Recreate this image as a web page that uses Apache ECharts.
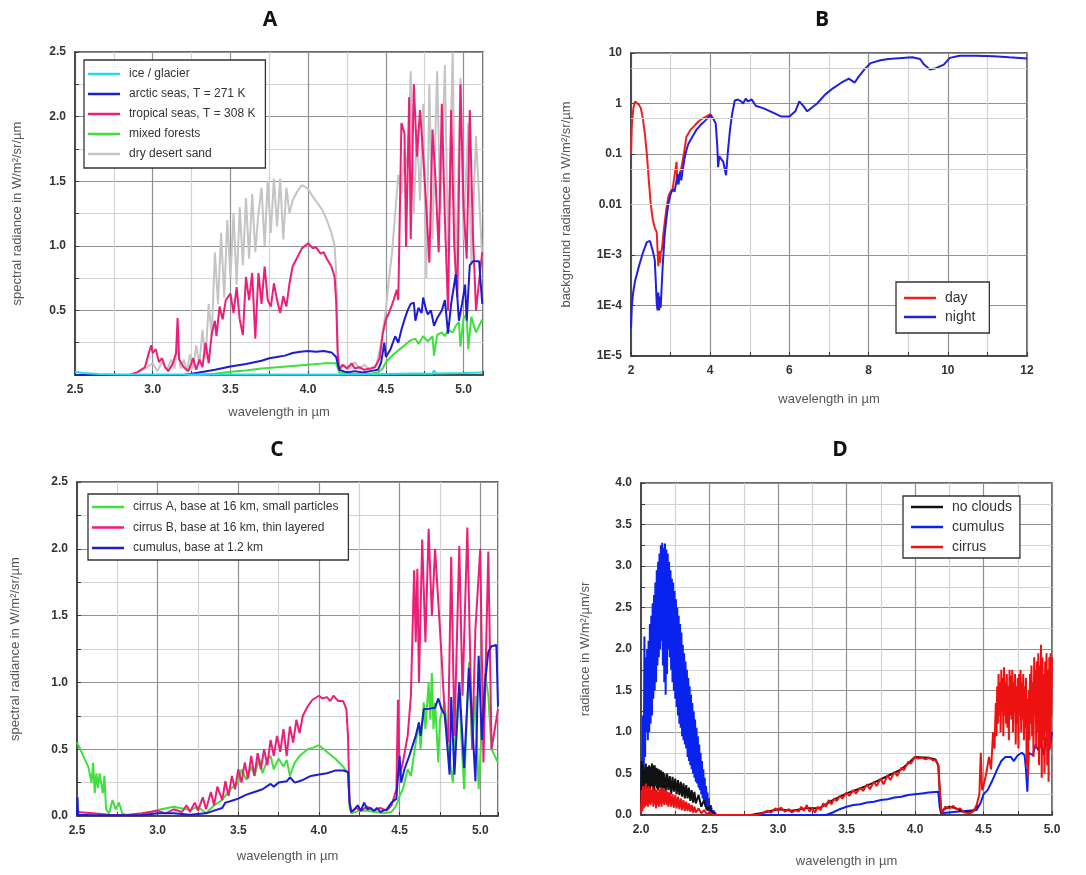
<!DOCTYPE html>
<html><head><meta charset="utf-8">
<script src="https://cdn.jsdelivr.net/npm/echarts@6/dist/echarts.min.js"></script>
<style>html,body{margin:0;padding:0;background:#fff}#c{width:1086px;height:875px}</style>
</head><body><div id="c"></div>
<script>
// ---------- Panel A: spectral radiance of surfaces ----------
const aIce = [[2.5,0.025],[2.55,0.015],[2.65,0.008],[2.8,0.004],[3.0,0.003],[3.5,0.003],[4.0,0.004],[4.2,0.003],[4.5,0.008],[4.7,0.012],[4.8,0.01],[4.81,0.035],[4.82,0.012],[5.0,0.015],[5.12,0.02]];
const aArctic = [[2.5,0],[3.2,0],[3.3,0.02],[3.4,0.04],[3.5,0.065],[3.6,0.085],[3.7,0.11],[3.75,0.13],[3.8,0.14],[3.85,0.15],[3.9,0.17],[3.95,0.18],[4.0,0.185],[4.05,0.18],[4.1,0.185],[4.15,0.175],[4.18,0.14],[4.2,0.04],[4.25,0.02],[4.3,0.03],[4.35,0.02],[4.4,0.03],[4.45,0.04],[4.47,0.1],[4.49,0.25],[4.5,0.14],[4.53,0.2],[4.56,0.3],[4.58,0.25],[4.6,0.35],[4.62,0.43],[4.64,0.5],[4.66,0.55],[4.68,0.56],[4.69,0.42],[4.71,0.52],[4.73,0.48],[4.74,0.6],[4.76,0.5],[4.77,0.47],[4.79,0.5],[4.81,0.38],[4.83,0.44],[4.86,0.5],[4.88,0.58],[4.9,0.32],[4.92,0.55],[4.95,0.78],[4.97,0.42],[4.99,0.55],[5.01,0.7],[5.02,0.42],[5.04,0.85],[5.06,0.88],[5.1,0.88],[5.12,0.55]];
const aTropical = [[2.5,0],[2.85,0],[2.9,0.02],[2.95,0.06],[2.97,0.15],[2.99,0.23],[3.0,0.17],[3.02,0.2],[3.04,0.1],[3.06,0.13],[3.08,0.06],[3.1,0.03],[3.13,0.09],[3.15,0.17],[3.16,0.44],[3.17,0.12],[3.2,0.06],[3.23,0.03],[3.26,0.13],[3.28,0.04],[3.3,0.12],[3.32,0.06],[3.34,0.25],[3.36,0.09],[3.38,0.32],[3.4,0.42],[3.41,0.3],[3.43,0.53],[3.45,0.43],[3.47,0.58],[3.5,0.63],[3.52,0.48],[3.54,0.68],[3.56,0.43],[3.58,0.31],[3.6,0.76],[3.62,0.58],[3.64,0.79],[3.66,0.28],[3.68,0.79],[3.7,0.55],[3.72,0.84],[3.74,0.58],[3.76,0.53],[3.78,0.71],[3.8,0.58],[3.82,0.48],[3.84,0.61],[3.86,0.53],[3.88,0.71],[3.9,0.84],[3.93,0.91],[3.96,0.98],[4.0,1.02],[4.03,0.98],[4.05,0.99],[4.08,0.94],[4.1,0.95],[4.12,0.9],[4.15,0.84],[4.17,0.76],[4.18,0.58],[4.19,0.17],[4.2,0.04],[4.22,0.08],[4.25,0.05],[4.28,0.09],[4.3,0.05],[4.33,0.06],[4.36,0.04],[4.4,0.05],[4.43,0.06],[4.46,0.13],[4.48,0.32],[4.5,0.43],[4.52,0.48],[4.55,0.58],[4.57,0.66],[4.58,0.58],[4.6,1.95],[4.62,1.87],[4.63,0.99],[4.65,2.15],[4.66,1.05],[4.68,2.25],[4.7,1.69],[4.72,2.05],[4.74,1.7],[4.76,1.3],[4.78,0.87],[4.8,1.9],[4.82,1.5],[4.84,0.95],[4.86,2.1],[4.88,1.2],[4.9,0.5],[4.92,2.05],[4.94,1.0],[4.96,0.6],[4.98,2.25],[5.0,1.3],[5.02,0.9],[5.04,2.05],[5.06,1.1],[5.08,0.5],[5.12,0.95]];
const aForest = [[2.5,0],[3.3,0],[3.4,0.01],[3.5,0.025],[3.6,0.035],[3.7,0.05],[3.8,0.06],[3.9,0.07],[4.0,0.08],[4.1,0.09],[4.18,0.09],[4.2,0.02],[4.3,0.01],[4.4,0.01],[4.45,0.02],[4.48,0.05],[4.5,0.1],[4.55,0.16],[4.6,0.21],[4.63,0.24],[4.66,0.27],[4.69,0.28],[4.71,0.24],[4.74,0.3],[4.77,0.26],[4.8,0.3],[4.81,0.15],[4.83,0.31],[4.86,0.33],[4.88,0.3],[4.9,0.35],[4.93,0.33],[4.95,0.38],[4.97,0.41],[4.98,0.22],[5.0,0.44],[5.02,0.47],[5.03,0.2],[5.05,0.45],[5.08,0.33],[5.12,0.43]];
const aSand = [[2.5,0],[2.85,0],[2.9,0.02],[2.95,0.05],[3.0,0.09],[3.03,0.03],[3.06,0.1],[3.09,0.04],[3.12,0.12],[3.14,0.05],[3.16,0.22],[3.18,0.05],[3.2,0.12],[3.22,0.03],[3.24,0.16],[3.26,0.05],[3.28,0.23],[3.3,0.08],[3.32,0.35],[3.34,0.12],[3.36,0.55],[3.38,0.3],[3.4,0.95],[3.42,0.55],[3.44,1.1],[3.46,0.6],[3.48,1.2],[3.5,0.75],[3.52,1.25],[3.54,0.7],[3.56,1.3],[3.58,0.85],[3.6,1.37],[3.62,0.9],[3.64,1.4],[3.66,0.95],[3.68,1.25],[3.7,1.45],[3.72,1.0],[3.74,1.5],[3.76,1.1],[3.78,1.52],[3.8,1.15],[3.82,1.52],[3.84,1.05],[3.86,1.45],[3.88,1.25],[3.9,1.35],[3.93,1.42],[3.96,1.47],[4.0,1.44],[4.03,1.38],[4.06,1.33],[4.09,1.28],[4.12,1.2],[4.15,1.1],[4.17,1.0],[4.18,0.8],[4.19,0.2],[4.2,0.03],[4.23,0.08],[4.26,0.04],[4.3,0.1],[4.33,0.05],[4.36,0.08],[4.4,0.04],[4.44,0.08],[4.47,0.25],[4.5,0.5],[4.52,0.75],[4.54,0.95],[4.56,1.25],[4.58,1.55],[4.6,1.4],[4.62,1.75],[4.64,1.6],[4.66,2.35],[4.68,1.25],[4.7,1.9],[4.72,1.35],[4.74,2.1],[4.76,0.75],[4.78,2.25],[4.8,1.05],[4.83,2.35],[4.85,1.25],[4.88,2.4],[4.9,0.95],[4.93,2.5],[4.95,0.7],[4.98,2.3],[5.0,1.05],[5.03,1.95],[5.05,0.85],[5.08,1.85],[5.12,0.9]];

// ---------- Panel B: background radiance (log) ----------
const bDay = [[2.0,0.1],[2.02,0.35],[2.04,0.55],[2.06,0.8],[2.1,1.1],[2.15,1.05],[2.2,0.95],[2.25,0.8],[2.3,0.5],[2.35,0.25],[2.4,0.1],[2.45,0.03],[2.5,0.01],[2.55,0.005],[2.6,0.0035],[2.65,0.0028],[2.67,0.0013],[2.69,0.0006],[2.71,0.0012],[2.73,0.0007],[2.75,0.0011],[2.78,0.0013],[2.82,0.0027],[2.86,0.005],[2.9,0.009],[2.95,0.015],[3.0,0.018],[3.05,0.02],[3.1,0.019],[3.15,0.07],[3.17,0.025],[3.2,0.03],[3.24,0.04],[3.3,0.07],[3.35,0.12],[3.4,0.22],[3.5,0.3],[3.6,0.36],[3.7,0.44],[3.8,0.5],[3.9,0.55],[4.0,0.62],[4.05,0.55]];
const bNight = [[2.0,0.000035],[2.02,0.000095],[2.05,0.00017],[2.1,0.0003],[2.2,0.0006],[2.3,0.0011],[2.4,0.0018],[2.48,0.0019],[2.55,0.0012],[2.6,0.0008],[2.63,0.00025],[2.65,0.00011],[2.67,0.00008],[2.69,0.00018],[2.71,0.00008],[2.73,0.00015],[2.75,0.00009],[2.77,0.0002],[2.8,0.0006],[2.85,0.0025],[2.9,0.0057],[2.95,0.011],[3.0,0.016],[3.05,0.02],[3.1,0.018],[3.15,0.017],[3.18,0.04],[3.2,0.025],[3.24,0.045],[3.27,0.03],[3.3,0.045],[3.35,0.08],[3.4,0.12],[3.45,0.16],[3.55,0.22],[3.65,0.3],[3.75,0.37],[3.9,0.48],[4.0,0.58],[4.08,0.5],[4.14,0.4],[4.18,0.14],[4.2,0.055],[4.23,0.09],[4.28,0.085],[4.33,0.07],[4.4,0.038],[4.45,0.12],[4.5,0.3],[4.55,0.6],[4.62,1.15],[4.7,1.2],[4.78,1.1],[4.83,1.0],[4.9,1.25],[4.95,1.1],[5.05,1.2],[5.15,0.9],[5.35,0.8],[5.6,0.65],[5.8,0.55],[6.0,0.55],[6.15,0.7],[6.25,1.1],[6.35,0.9],[6.45,0.7],[6.7,1.0],[6.9,1.5],[7.1,2.0],[7.3,2.55],[7.5,3.1],[7.65,2.6],[7.75,3.4],[7.9,4.8],[8.05,6.3],[8.3,7.2],[8.5,7.6],[8.85,8.0],[9.1,8.2],[9.3,7.6],[9.4,5.9],[9.55,4.7],[9.7,5.0],[9.9,5.9],[10.05,8.0],[10.3,8.8],[10.7,8.8],[11.15,8.6],[11.55,8.2],[12.0,7.8]];
const bMinorGrid = [5, 0.5, 0.05, 0.005, 0.0005, 0.00005];
const bLogLabels = {"10":"10","1":"1","0.1":"0.1","0.01":"0.01","0.001":"1E-3","0.0001":"1E-4","0.00001":"1E-5"};

// ---------- Panel C: clouds ----------
const cCirrusA = [[2.5,0.55],[2.52,0.5],[2.55,0.42],[2.57,0.37],[2.59,0.25],[2.6,0.4],[2.61,0.17],[2.62,0.32],[2.63,0.21],[2.64,0.32],[2.66,0.17],[2.67,0.3],[2.68,0.05],[2.7,0.02],[2.72,0.12],[2.74,0.05],[2.76,0.1],[2.78,0.02],[2.8,0.01],[2.9,0.01],[3.0,0.045],[3.1,0.07],[3.2,0.045],[3.25,0.07],[3.3,0.02],[3.35,0.08],[3.4,0.12],[3.45,0.2],[3.5,0.25],[3.52,0.35],[3.55,0.27],[3.58,0.37],[3.6,0.3],[3.63,0.43],[3.65,0.32],[3.68,0.42],[3.7,0.45],[3.72,0.35],[3.75,0.43],[3.78,0.37],[3.8,0.42],[3.82,0.3],[3.85,0.4],[3.88,0.45],[3.9,0.47],[3.93,0.5],[3.96,0.51],[4.0,0.53],[4.03,0.5],[4.06,0.47],[4.1,0.43],[4.15,0.37],[4.18,0.32],[4.19,0.07],[4.2,0.02],[4.25,0.04],[4.3,0.04],[4.35,0.03],[4.4,0.02],[4.45,0.03],[4.48,0.08],[4.5,0.15],[4.52,0.2],[4.55,0.35],[4.57,0.3],[4.6,0.55],[4.62,0.7],[4.63,0.5],[4.65,0.85],[4.66,0.65],[4.68,1.0],[4.69,0.72],[4.7,1.07],[4.71,0.65],[4.72,0.85],[4.74,0.4],[4.75,0.72],[4.78,0.85],[4.8,0.52],[4.83,0.25],[4.85,0.7],[4.87,0.97],[4.88,0.65],[4.9,0.2],[4.93,1.15],[4.95,0.5],[4.97,0.9],[4.99,0.2],[5.01,0.65],[5.03,1.07],[5.05,0.9],[5.07,0.5],[5.11,0.4]];
const cCirrusB = [[2.5,0.03],[2.6,0.02],[2.7,0.01],[2.8,0.005],[2.9,0.02],[3.0,0.04],[3.05,0.02],[3.1,0.05],[3.15,0.03],[3.18,0.08],[3.2,0.03],[3.23,0.1],[3.25,0.04],[3.28,0.14],[3.3,0.05],[3.33,0.18],[3.35,0.08],[3.37,0.22],[3.4,0.12],[3.42,0.26],[3.44,0.15],[3.46,0.3],[3.48,0.2],[3.5,0.35],[3.52,0.25],[3.54,0.4],[3.56,0.28],[3.58,0.45],[3.6,0.3],[3.62,0.47],[3.64,0.35],[3.66,0.5],[3.68,0.38],[3.7,0.57],[3.72,0.45],[3.74,0.6],[3.76,0.48],[3.78,0.65],[3.8,0.45],[3.82,0.67],[3.84,0.55],[3.86,0.72],[3.88,0.62],[3.9,0.75],[3.93,0.82],[3.96,0.87],[4.0,0.9],[4.02,0.88],[4.05,0.89],[4.07,0.86],[4.09,0.9],[4.12,0.86],[4.15,0.86],[4.17,0.8],[4.18,0.6],[4.19,0.1],[4.2,0.03],[4.23,0.06],[4.26,0.04],[4.3,0.07],[4.34,0.04],[4.38,0.06],[4.42,0.04],[4.45,0.08],[4.48,0.2],[4.49,0.87],[4.5,0.3],[4.52,0.4],[4.55,0.6],[4.57,0.9],[4.59,1.84],[4.6,1.3],[4.61,1.85],[4.62,1.0],[4.64,2.07],[4.66,1.3],[4.68,2.15],[4.7,1.5],[4.72,2.0],[4.74,1.6],[4.76,1.2],[4.78,0.75],[4.8,0.55],[4.82,1.94],[4.84,0.6],[4.87,2.02],[4.89,0.9],[4.92,2.16],[4.95,0.5],[4.97,1.4],[5.0,2.0],[5.02,0.4],[5.05,1.98],[5.07,0.5],[5.11,0.8]];
const cCumulus = [[2.5,0],[2.503,0.14],[2.507,0.01],[2.6,0.005],[2.9,0.005],[3.0,0.02],[3.1,0.02],[3.2,0.01],[3.3,0.02],[3.35,0.04],[3.4,0.06],[3.42,0.1],[3.45,0.11],[3.5,0.13],[3.55,0.16],[3.6,0.18],[3.65,0.2],[3.7,0.24],[3.72,0.22],[3.75,0.25],[3.8,0.26],[3.82,0.29],[3.85,0.25],[3.9,0.27],[3.95,0.3],[4.0,0.31],[4.05,0.32],[4.1,0.34],[4.15,0.34],[4.18,0.33],[4.19,0.1],[4.2,0.03],[4.22,0.05],[4.24,0.08],[4.26,0.04],[4.28,0.1],[4.3,0.05],[4.32,0.06],[4.34,0.04],[4.36,0.06],[4.38,0.03],[4.4,0.04],[4.42,0.05],[4.45,0.1],[4.48,0.13],[4.49,0.3],[4.5,0.45],[4.51,0.25],[4.53,0.35],[4.56,0.45],[4.6,0.6],[4.62,0.7],[4.63,0.6],[4.65,0.8],[4.67,0.8],[4.72,0.81],[4.74,0.88],[4.76,0.8],[4.78,0.76],[4.81,0.31],[4.82,0.89],[4.84,0.31],[4.87,1.0],[4.9,0.36],[4.93,1.11],[4.95,0.7],[4.97,0.26],[4.99,1.2],[5.01,0.57],[5.03,1.0],[5.05,1.23],[5.07,1.27],[5.1,1.28],[5.11,0.82]];

// ---------- Panel D: radiance with/without clouds ----------
const dNoClouds = [[2.0,0.1],[2.005,0.65],[2.01,0.25],[2.015,0.6],[2.02,0.3],[2.025,0.55],[2.03,0.35],[2.035,0.62],[2.04,0.3],[2.045,0.58],[2.05,0.32],[2.06,0.6],[2.065,0.3],[2.07,0.58],[2.075,0.35],[2.08,0.62],[2.085,0.33],[2.09,0.6],[2.095,0.3],[2.1,0.6],[2.105,0.35],[2.11,0.57],[2.115,0.32],[2.12,0.56],[2.125,0.3],[2.13,0.55],[2.14,0.33],[2.145,0.54],[2.15,0.3],[2.16,0.52],[2.165,0.32],[2.17,0.5],[2.18,0.28],[2.19,0.5],[2.2,0.3],[2.21,0.47],[2.22,0.25],[2.23,0.46],[2.24,0.28],[2.25,0.44],[2.26,0.25],[2.27,0.42],[2.28,0.24],[2.29,0.4],[2.3,0.22],[2.31,0.38],[2.32,0.2],[2.33,0.36],[2.34,0.2],[2.35,0.33],[2.36,0.17],[2.37,0.3],[2.38,0.15],[2.39,0.28],[2.4,0.14],[2.42,0.24],[2.44,0.1],[2.46,0.18],[2.48,0.06],[2.5,0.1],[2.52,0.03],[2.55,0.0],[2.8,0.0],[2.9,0.03],[3.0,0.07],[3.1,0.05],[3.2,0.08],[3.3,0.08],[3.4,0.18],[3.5,0.26],[3.6,0.32],[3.7,0.39],[3.8,0.47],[3.9,0.55],[3.95,0.62],[4.0,0.7],[4.1,0.69],[4.15,0.67],[4.17,0.6],[4.18,0.3],[4.19,0.05],[4.25,0.1],[4.3,0.08],[4.35,0.04],[4.42,0.04],[4.46,0.12]];
const dCumulus = [[2.0,0.05],[2.005,0.6],[2.01,0.2],[2.015,1.2],[2.02,0.4],[2.025,2.15],[2.03,0.7],[2.035,1.9],[2.04,1.0],[2.045,2.0],[2.05,0.9],[2.055,2.1],[2.06,1.0],[2.065,2.3],[2.07,1.1],[2.075,2.4],[2.08,1.2],[2.085,2.55],[2.09,1.4],[2.095,2.65],[2.1,1.5],[2.105,2.8],[2.11,1.6],[2.115,2.95],[2.12,1.8],[2.125,3.05],[2.13,1.9],[2.135,3.15],[2.14,2.0],[2.145,3.25],[2.15,2.1],[2.155,3.28],[2.16,1.8],[2.165,3.22],[2.17,1.6],[2.175,3.27],[2.18,1.45],[2.185,3.2],[2.19,1.7],[2.195,3.15],[2.2,2.0],[2.205,3.05],[2.21,1.9],[2.215,2.95],[2.22,1.75],[2.225,2.85],[2.23,1.6],[2.235,2.8],[2.24,1.5],[2.245,2.7],[2.25,1.4],[2.255,2.6],[2.26,1.3],[2.265,2.5],[2.27,1.2],[2.275,2.4],[2.28,1.1],[2.285,2.3],[2.29,1.05],[2.295,2.2],[2.3,0.95],[2.305,2.05],[2.31,0.9],[2.315,1.95],[2.32,0.85],[2.325,1.85],[2.33,0.8],[2.335,1.75],[2.34,0.7],[2.345,1.65],[2.35,0.65],[2.355,1.55],[2.36,0.6],[2.365,1.45],[2.37,0.55],[2.375,1.35],[2.38,0.5],[2.385,1.25],[2.39,0.45],[2.395,1.15],[2.4,0.4],[2.405,1.05],[2.41,0.38],[2.415,0.95],[2.42,0.33],[2.425,0.85],[2.43,0.3],[2.435,0.75],[2.44,0.25],[2.445,0.65],[2.45,0.2],[2.455,0.55],[2.46,0.15],[2.465,0.45],[2.47,0.1],[2.475,0.35],[2.48,0.08],[2.485,0.27],[2.49,0.05],[2.495,0.2],[2.5,0.03],[2.51,0.12],[2.52,0.02],[2.53,0.05],[2.55,0.0],[3.35,0.0],[3.4,0.03],[3.45,0.07],[3.5,0.1],[3.55,0.12],[3.6,0.13],[3.65,0.15],[3.7,0.16],[3.75,0.18],[3.8,0.19],[3.85,0.21],[3.9,0.22],[3.95,0.24],[4.0,0.25],[4.05,0.26],[4.1,0.27],[4.17,0.28],[4.18,0.1],[4.19,0.02],[4.3,0.04],[4.45,0.06],[4.48,0.15],[4.5,0.25],[4.53,0.3],[4.56,0.4],[4.6,0.55],[4.63,0.65],[4.66,0.7],[4.7,0.7],[4.72,0.65],[4.75,0.72],[4.78,0.75],[4.8,0.72],[4.81,0.55],[4.82,0.28],[4.83,0.75],[4.86,0.72],[4.88,0.85],[4.9,0.78],[4.92,0.9],[4.94,0.72],[4.96,0.95],[4.98,0.78],[5.0,1.0]];
const dCirrus = [[2.0,0.02],[2.005,0.3],[2.01,0.05],[2.015,0.35],[2.02,0.08],[2.025,0.32],[2.03,0.1],[2.035,0.38],[2.04,0.12],[2.045,0.3],[2.05,0.1],[2.055,0.35],[2.06,0.14],[2.065,0.33],[2.07,0.12],[2.075,0.3],[2.08,0.15],[2.085,0.34],[2.09,0.1],[2.095,0.3],[2.1,0.13],[2.105,0.32],[2.11,0.08],[2.115,0.3],[2.12,0.12],[2.125,0.28],[2.13,0.1],[2.135,0.31],[2.14,0.13],[2.145,0.33],[2.15,0.1],[2.155,0.3],[2.16,0.14],[2.165,0.32],[2.17,0.12],[2.175,0.3],[2.18,0.15],[2.185,0.29],[2.19,0.12],[2.195,0.28],[2.2,0.1],[2.21,0.27],[2.22,0.1],[2.23,0.25],[2.24,0.09],[2.25,0.24],[2.26,0.08],[2.27,0.22],[2.28,0.07],[2.29,0.2],[2.3,0.06],[2.31,0.18],[2.32,0.05],[2.33,0.16],[2.34,0.05],[2.35,0.14],[2.36,0.04],[2.37,0.12],[2.38,0.03],[2.39,0.1],[2.4,0.03],[2.42,0.08],[2.44,0.02],[2.46,0.06],[2.48,0.01],[2.5,0.03],[2.53,0.0],[2.85,0.0],[2.88,0.02],[2.92,0.05],[2.95,0.03],[2.98,0.08],[3.0,0.05],[3.02,0.09],[3.05,0.04],[3.08,0.07],[3.1,0.03],[3.13,0.06],[3.15,0.04],[3.17,0.1],[3.19,0.05],[3.21,0.12],[3.23,0.04],[3.25,0.08],[3.27,0.03],[3.29,0.1],[3.31,0.06],[3.33,0.14],[3.35,0.1],[3.37,0.18],[3.39,0.13],[3.41,0.2],[3.43,0.17],[3.45,0.23],[3.47,0.2],[3.5,0.27],[3.52,0.23],[3.55,0.3],[3.57,0.26],[3.6,0.33],[3.62,0.29],[3.65,0.37],[3.67,0.31],[3.7,0.4],[3.72,0.35],[3.75,0.44],[3.77,0.37],[3.8,0.48],[3.82,0.42],[3.85,0.52],[3.87,0.47],[3.9,0.57],[3.92,0.54],[3.95,0.64],[3.97,0.62],[4.0,0.7],[4.02,0.68],[4.05,0.69],[4.08,0.67],[4.1,0.69],[4.13,0.66],[4.15,0.66],[4.17,0.6],[4.18,0.35],[4.19,0.06],[4.2,0.03],[4.22,0.1],[4.25,0.08],[4.28,0.11],[4.3,0.07],[4.33,0.08],[4.36,0.03],[4.4,0.02],[4.43,0.05],[4.45,0.12],[4.47,0.25],[4.48,0.75],[4.49,0.3],[4.5,0.35],[4.52,0.5],[4.54,0.7],[4.555,0.55],[4.57,1.0],[4.58,0.8],[4.59,1.35],[4.595,0.95],[4.6,1.55],[4.605,1.1],[4.61,1.7],[4.615,1.2],[4.62,1.6],[4.625,1.0],[4.63,1.75],[4.635,1.25],[4.64,1.65],[4.645,0.95],[4.65,1.78],[4.655,1.2],[4.66,1.6],[4.665,1.1],[4.67,1.7],[4.675,1.05],[4.68,1.55],[4.685,0.9],[4.69,1.75],[4.695,1.2],[4.7,1.68],[4.705,1.15],[4.71,1.75],[4.715,1.0],[4.72,1.6],[4.725,1.25],[4.73,1.7],[4.735,0.85],[4.74,1.55],[4.745,1.1],[4.75,1.65],[4.755,0.8],[4.76,1.7],[4.765,1.2],[4.77,1.75],[4.775,1.0],[4.78,1.6],[4.785,1.15],[4.79,1.7],[4.795,0.9],[4.8,1.55],[4.805,1.05],[4.81,1.65],[4.815,0.6],[4.82,1.4],[4.825,0.45],[4.83,1.5],[4.835,0.9],[4.84,1.7],[4.845,1.1],[4.85,1.8],[4.855,0.95],[4.86,1.6],[4.865,0.7],[4.87,1.9],[4.875,1.2],[4.88,1.75],[4.885,0.8],[4.89,1.85],[4.895,1.0],[4.9,1.95],[4.905,0.6],[4.91,1.8],[4.915,0.8],[4.92,2.05],[4.925,0.45],[4.93,1.9],[4.935,0.9],[4.94,1.7],[4.945,0.5],[4.95,1.85],[4.955,1.0],[4.96,1.95],[4.965,0.6],[4.97,1.75],[4.975,0.4],[4.98,1.9],[4.985,0.8],[4.99,1.95],[4.995,1.2],[5.0,1.9]];

// ---------- Text ----------
const panelTitles = ['A','B','C','D'];
const legendA = ['ice / glacier','arctic seas, T = 271 K','tropical seas, T = 308 K','mixed forests','dry desert sand'];
const legendB = ['day','night'];
const legendC = ['cirrus A, base at 16 km, small particles','cirrus B, base at 16 km, thin layered','cumulus, base at 1.2 km'];
const legendD = ['no clouds','cumulus','cirrus'];
const xName = 'wavelength in µm';
const yNames = ['spectral radiance in W/m²/sr/µm','background radiance in W/m²/sr/µm','spectral radiance in W/m²/sr/µm','radiance in W/m²/µm/sr'];

const FONT = '"Liberation Sans", Arial, sans-serif';
const MAJ = '#909090', MIN = '#d2d2d2', FRAME = '#3a3a3a';

function isMul(v, s){ const q = v / s; return Math.abs(q - Math.round(q)) < 1e-6; }

function linAxis(gi, pos, min, max, step, labelStep, nameGap, name, opt){
  opt = opt || {};
  return {
    type:'value', gridIndex:gi, position:pos, min:min, max:max, interval:step,
    name:name, nameLocation:'middle', nameGap:nameGap,
    nameTextStyle:{fontFamily:FONT, fontSize:13, color:'#555'},
    axisLine:{show:true, onZero:false, lineStyle:{color:FRAME, width:1.5}},
    axisTick:{show:true, inside:true, length:4, lineStyle:{color:FRAME}},
    axisLabel:{show:true, interval:0, margin:9, fontFamily:FONT, fontSize:12, fontWeight:'bold', color:'#333',
      formatter:function(v){ if(!isMul(v,labelStep)) return ''; if(opt.hideZero && Math.abs(v)<1e-9) return ''; return opt.dec===0 ? String(Math.round(v)) : v.toFixed(1); }},
    splitLine:{show:true, lineStyle:{color:[MAJ, MIN], width:1.2}}
  };
}

const chart = echarts.init(document.getElementById('c'), null, {renderer:'canvas'});

const grids = [
  {left:75, top:52, width:408, height:323},
  {left:631, top:53, width:396, height:303},
  {left:77, top:482, width:421, height:334},
  {left:641, top:483, width:411, height:332}
].map(g => Object.assign({show:true, borderColor:FRAME, borderWidth:1.5, backgroundColor:'#fff'}, g));

const xAxes = [
  linAxis(0,'bottom',2.5,5.125,0.25,0.5,31,xName),
  linAxis(1,'bottom',2,12,1,2,37,xName,{dec:0}),
  linAxis(2,'bottom',2.5,5.11,0.25,0.5,34,xName),
  linAxis(3,'bottom',2,5,0.25,0.5,40,xName)
];
const yAxes = [
  linAxis(0,'left',0,2.5,0.25,0.5,51,yNames[0],{hideZero:true}),
  {
    type:'log', gridIndex:1, logBase:10, min:0.00001, max:10,
    name:yNames[1], nameLocation:'middle', nameGap:58,
    nameTextStyle:{fontFamily:FONT, fontSize:13, color:'#555'},
    axisLine:{show:true, lineStyle:{color:FRAME, width:1.5}},
    axisTick:{show:true, inside:true, length:4, lineStyle:{color:FRAME}},
    axisLabel:{margin:9, fontFamily:FONT, fontSize:12, fontWeight:'bold', color:'#333',
      formatter:function(v){ const k = String(+v.toPrecision(3)); return bLogLabels[k] !== undefined ? bLogLabels[k] : ''; }},
    splitLine:{show:true, lineStyle:{color:MAJ, width:1.2}}
  },
  linAxis(2,'left',0,2.5,0.25,0.5,55,yNames[2]),
  linAxis(3,'left',0,4,0.25,0.5,49,yNames[3])
];

function ln(name, data, color, gi, width, z){
  return {type:'line', name:name, data:data, xAxisIndex:gi, yAxisIndex:gi, symbol:'none', showSymbol:false,
    lineStyle:{color:color, width:width}, itemStyle:{color:color}, z:z||2, animation:false, silent:true};
}

const minorB = ln('_bgrid', [], MIN, 1, 1, 1);
minorB.markLine = {silent:true, symbol:'none', label:{show:false}, lineStyle:{color:MIN, type:'solid', width:1.2}, animation:false,
  data: bMinorGrid.map(v => ({yAxis:v}))};

const series = [
  ln(legendA[4], aSand, '#c4c4c4', 0, 2, 2),
  ln(legendA[2], aTropical, '#ec1f78', 0, 2, 3),
  ln(legendA[3], aForest, '#3ee03e', 0, 2, 4),
  ln(legendA[1], aArctic, '#1c1cd0', 0, 2, 5),
  ln(legendA[0], aIce, '#22dde8', 0, 2, 6),
  minorB,
  ln(legendB[0], bDay, '#ee2020', 1, 2, 3),
  ln(legendB[1], bNight, '#2020dd', 1, 2, 4),
  ln(legendC[0], cCirrusA, '#3ee03e', 2, 2, 3),
  ln(legendC[1], cCirrusB, '#ec1f78', 2, 2, 4),
  ln(legendC[2], cCumulus, '#1c1cd0', 2, 2, 5),
  ln(legendD[1], dCumulus, '#0a22ee', 3, 2, 3),
  ln(legendD[0], dNoClouds, '#111111', 3, 2, 4),
  ln(legendD[2], dCirrus, '#ee1111', 3, 2, 5)
];

function legend(data, left, top, fs, gap, pad){
  return {data:data, left:left, top:top, orient:'vertical', icon:'rect', itemWidth:32, itemHeight:2.5, itemGap:gap,
    padding:pad, backgroundColor:'#fff', borderColor:'#333', borderWidth:1.3, borderRadius:0, selectedMode:false,
    textStyle:{fontFamily:FONT, fontSize:fs, color:'#333', padding:[0,0,0,4]}};
}

const titleXY = [[270,20],[822,20],[277,450],[840,450]];

chart.setOption({
  animation:false,
  backgroundColor:'#fff',
  grid:grids,
  xAxis:xAxes,
  yAxis:yAxes,
  legend:[
    legend(legendA, 84, 60, 12, 8, [8,10,8,4]),
    legend(legendB, 896, 282, 14, 5, [9,14,9,8]),
    legend(legendC, 88, 494, 12, 8.5, [7,10,6,4]),
    legend(legendD, 903, 496, 14, 6, [4,8,4,8])
  ],
  graphic: panelTitles.map((t,i) => ({type:'text', x:titleXY[i][0], y:titleXY[i][1],
    style:{text:t, font:'bold 21px "Open Sans", "Liberation Sans", sans-serif', fill:'#111', textAlign:'center', textVerticalAlign:'middle'}})),
  series:series
});
</script></body></html>
